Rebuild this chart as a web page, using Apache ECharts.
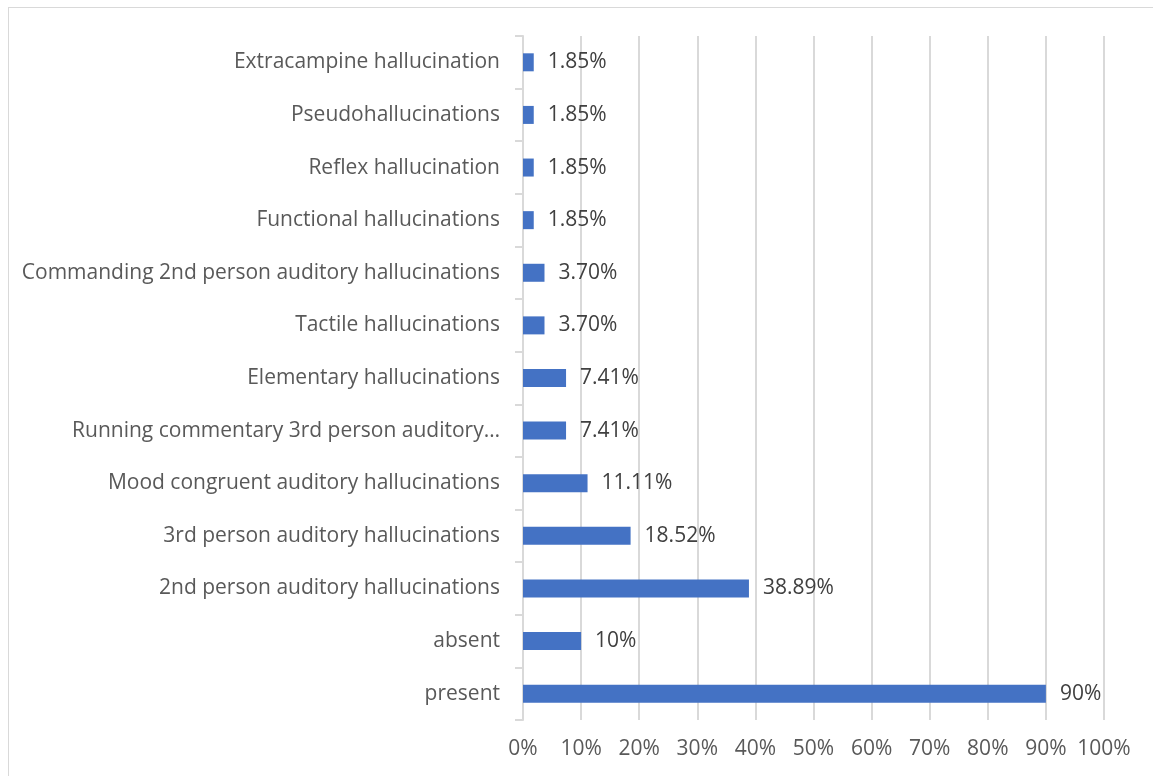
<!DOCTYPE html>
<html>
<head>
<meta charset="utf-8">
<script src="https://cdn.jsdelivr.net/npm/echarts@6/dist/echarts.min.js"></script>
<style>
  html, body { margin: 0; padding: 0; background: #fff; }
  #frame { position: absolute; left: 8px; top: 7px; width: 1150px; height: 775px; border: 1px solid #d9d9d9; box-sizing: border-box; }
  #chart { position: absolute; left: 0; top: 0; width: 1153px; height: 776px; }
</style>
</head>
<body>
<div id="frame"></div>
<div id="chart"></div>
<script>
// Categories listed bottom-to-top (first entry sits at the bottom of the axis)
const categories = [
  'present',
  'absent',
  '2nd person auditory hallucinations',
  '3rd person auditory hallucinations',
  'Mood congruent auditory hallucinations',
  'Running commentary 3rd person auditory\u2026',
  'Elementary hallucinations',
  'Tactile hallucinations',
  'Commanding 2nd person auditory hallucinations',
  'Functional hallucinations',
  'Reflex hallucination',
  'Pseudohallucinations',
  'Extracampine hallucination'
];
const percentages = [90, 10, 38.89, 18.52, 11.11, 7.41, 7.41, 3.70, 3.70, 1.85, 1.85, 1.85, 1.85];
const tickLabels = ['0%', '10%', '20%', '30%', '40%', '50%', '60%', '70%', '80%', '90%', '100%'];

const FONT = '"Open Sans", sans-serif';

function fmtPct(v) {
  return (Number.isInteger(v) ? String(v) : v.toFixed(2)) + '%';
}

const chart = echarts.init(document.getElementById('chart'), null, { renderer: 'canvas' });
chart.setOption({
  animation: false,
  grid: { left: 523, right: 49, top: 36, bottom: 56, containLabel: false },
  xAxis: {
    type: 'value',
    min: 0,
    max: 100,
    interval: 10,
    axisLine: { show: false },
    axisTick: { show: false },
    splitLine: { show: true, lineStyle: { color: '#d9d9d9', width: 2 } },
    axisLabel: {
      margin: 19,
      color: '#595959',
      fontFamily: FONT,
      fontSize: 21,
      formatter: function (v) { return tickLabels[Math.round(v / 10)]; }
    }
  },
  yAxis: {
    type: 'category',
    data: categories,
    axisLine: { show: true, lineStyle: { color: '#d9d9d9', width: 2 } },
    axisTick: { show: true, length: 8, lineStyle: { color: '#d9d9d9', width: 2 } },
    axisLabel: {
      margin: 23,
      color: '#595959',
      fontFamily: FONT,
      fontSize: 21
    }
  },
  series: [{
    type: 'bar',
    data: percentages,
    barWidth: 18,
    itemStyle: { color: '#4472c4' },
    label: {
      show: true,
      position: 'right',
      distance: 14,
      color: '#404040',
      fontFamily: FONT,
      fontSize: 21,
      formatter: function (p) { return fmtPct(p.value); }
    }
  }]
});
</script>
</body>
</html>
